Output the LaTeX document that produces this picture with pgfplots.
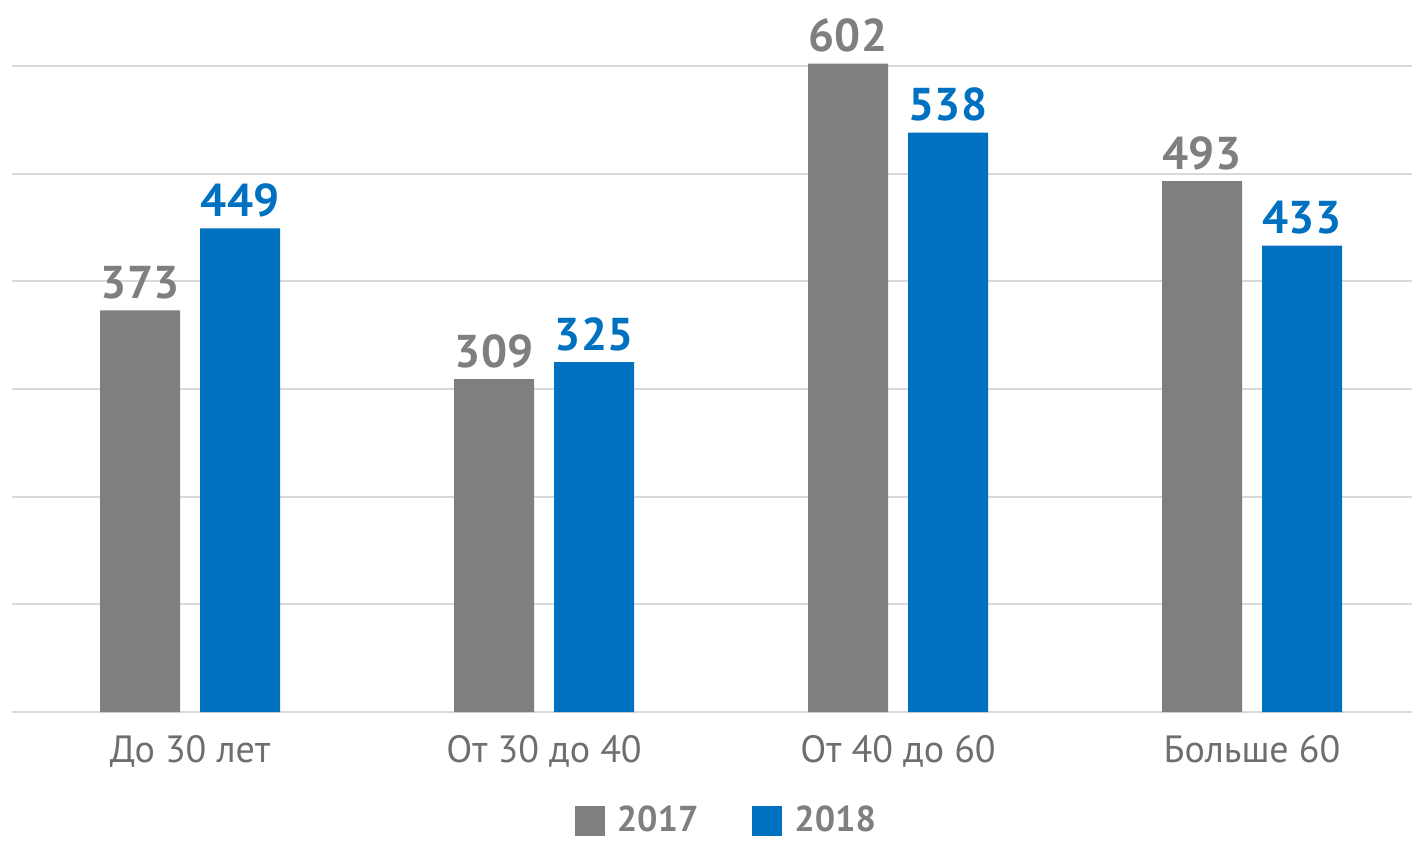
\documentclass[border=0pt]{standalone}
\usepackage{pgfplots}
\pgfplotsset{compat=1.18}
\usepackage{fontspec}
\setmainfont{PT Sans}
\definecolor{g17}{HTML}{7F7F7F}
\definecolor{b18}{HTML}{0070C0}
\definecolor{gridc}{HTML}{D9D9D9}
\definecolor{tickc}{HTML}{6E6E6E}
\begin{document}
\begin{tikzpicture}
\begin{axis}[
  at={(6pt,65pt)}, anchor=south west,
  scale only axis, width=700pt, height=350pt,
  xmin=-0.503, xmax=3.452, ymin=0, ymax=650,
  ybar, bar width=40pt,
  clip=false,
  axis line style={draw=none},
  ytick={0,100,...,600}, yticklabels={},
  ymajorgrids, grid style={gridc, line width=1pt},
  major tick length=0,
  xtick={0,1,2,3},
  xticklabels={До 30 лет, От 30 до 40, От 40 до 60, Больше 60},
  x tick label style={font=\fontsize{19}{21}\selectfont, text=tickc, yshift=-8pt},
  /pgf/number format/assume math mode=true,
  nodes near coords,
  every node near coord/.append style={font=\bfseries\fontsize{23}{26}\selectfont, yshift=2pt},
  legend style={draw=none, fill=none, legend columns=2, at={(0.511,-0.155)}, anchor=center,
    font=\bfseries\fontsize{18}{20}\selectfont, text=g17, nodes={inner ysep=0pt},
    /tikz/every even column/.append style={column sep=25pt}},
  legend image code/.code={\fill[#1] (0pt,-7.5pt) rectangle (15pt,7.5pt); \path (19pt,0pt);},
]
\addplot[fill=g17, draw=none, bar shift=-25pt, every node near coord/.append style={text=g17}]
  coordinates {(0,373) (1,309) (2,602) (3,493)};
\addlegendentry{2017}
\addplot[fill=b18, draw=none, bar shift=25pt, every node near coord/.append style={text=b18}]
  coordinates {(0,449) (1,325) (2,538) (3,433)};
\addlegendentry{2018}
\end{axis}
\pgfresetboundingbox
\path (0,0) rectangle (706pt,421pt);
\end{tikzpicture}
\end{document}
